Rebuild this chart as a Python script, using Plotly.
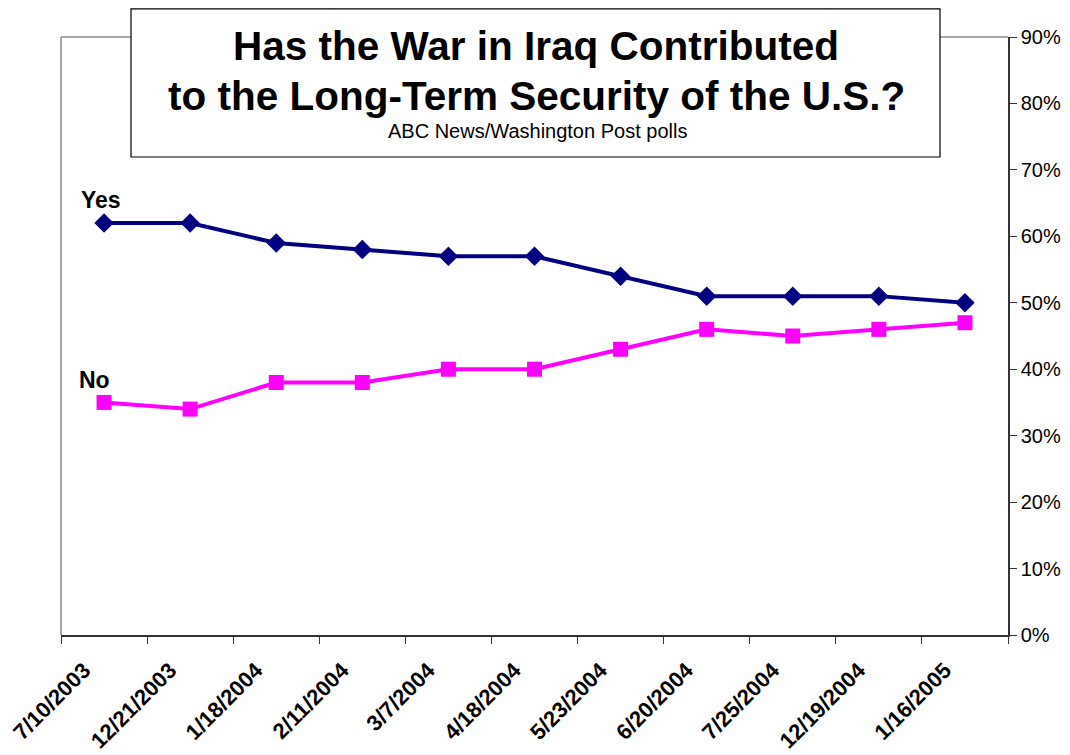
import plotly.graph_objects as go

dates = ["7/10/2003", "12/21/2003", "1/18/2004", "2/11/2004", "3/7/2004", "4/18/2004",
         "5/23/2004", "6/20/2004", "7/25/2004", "12/19/2004", "1/16/2005"]
yes_vals = [0.62, 0.62, 0.59, 0.58, 0.57, 0.57, 0.54, 0.51, 0.51, 0.51, 0.50]
no_vals = [0.35, 0.34, 0.38, 0.38, 0.40, 0.40, 0.43, 0.46, 0.45, 0.46, 0.47]

FONT = "Liberation Sans, Arial, sans-serif"
OFF = 8  # page offset
FW, FH = 1070 - OFF, 755 - OFF
L, R, T, B = 61 - OFF, 1008 - OFF, 37 - OFF, 635 - OFF
W, H = R - L, B - T

def px(x):
    return (x - OFF - L) / W

def py(y):
    return (B - (y - OFF)) / H

fig = go.Figure()
fig.add_trace(go.Scatter(x=dates, y=yes_vals, mode="lines+markers", name="Yes",
                         line=dict(color="#000080", width=4),
                         marker=dict(symbol="diamond", size=15, color="#000080")))
fig.add_trace(go.Scatter(x=dates, y=no_vals, mode="lines+markers", name="No",
                         line=dict(color="#FF00FF", width=4),
                         marker=dict(symbol="square", size=15, color="#FF00FF")))

fig.update_layout(
    width=FW, height=FH,
    margin=dict(l=L, r=FW - R, t=T, b=FH - B, autoexpand=False),
    paper_bgcolor="white", plot_bgcolor="white",
    showlegend=False,
    font=dict(family=FONT, color="black"),
    xaxis=dict(type="category", range=[-0.5, 10.5], showgrid=False, zeroline=False,
               showline=True, linecolor="#333333", linewidth=1.5,
               ticks="outside", ticklen=7, tickcolor="#333333", tickson="boundaries",
               tickangle=-45, tickfont=dict(size=22, family=FONT, color="black"),
               ticklabelshift=-20, ticklabelstandoff=12,
               tickprefix="<b>", ticksuffix="</b>"),
    yaxis=dict(range=[0, 0.9], dtick=0.1, tickformat=".0%", side="right",
               showgrid=False, zeroline=False, showline=True, linecolor="#333333",
               linewidth=1.5, ticks="outside", ticklen=7, tickcolor="#333333",
               tickfont=dict(size=20, family=FONT, color="black")),
    shapes=[
        dict(type="line", xref="paper", yref="paper", x0=0, y0=0, x1=0, y1=1,
             line=dict(color="#888888", width=1.5)),
        dict(type="line", xref="paper", yref="paper", x0=0, y0=1, x1=1, y1=1,
             line=dict(color="#888888", width=1.5)),
        dict(type="rect", xref="paper", yref="paper", x0=px(131), x1=px(940),
             y0=py(157), y1=py(8.8), fillcolor="white", line=dict(color="black", width=1.2),
             layer="above"),
    ],
    annotations=[
        dict(text="<b>Has the War in Iraq Contributed</b>", xref="paper", yref="paper",
             x=px(536), y=py(46), showarrow=False, font=dict(size=40.5, family=FONT),
             xanchor="center", yanchor="middle"),
        dict(text="<b>to the Long-Term Security of the U.S.?</b>", xref="paper", yref="paper",
             x=px(536), y=py(96), showarrow=False, font=dict(size=40.5, family=FONT),
             xanchor="center", yanchor="middle"),
        dict(text="ABC News/Washington Post polls", xref="paper", yref="paper",
             x=px(537), y=py(131), showarrow=False, font=dict(size=20, family=FONT),
             xanchor="center", yanchor="middle"),
        dict(text="<b>Yes</b>", xref="paper", yref="paper", x=px(79), y=py(200),
             showarrow=False, font=dict(size=23, family=FONT), xanchor="left", yanchor="middle"),
        dict(text="<b>No</b>", xref="paper", yref="paper", x=px(77), y=py(380),
             showarrow=False, font=dict(size=23, family=FONT), xanchor="left", yanchor="middle"),
    ],
)

fig.write_html("out.html")
